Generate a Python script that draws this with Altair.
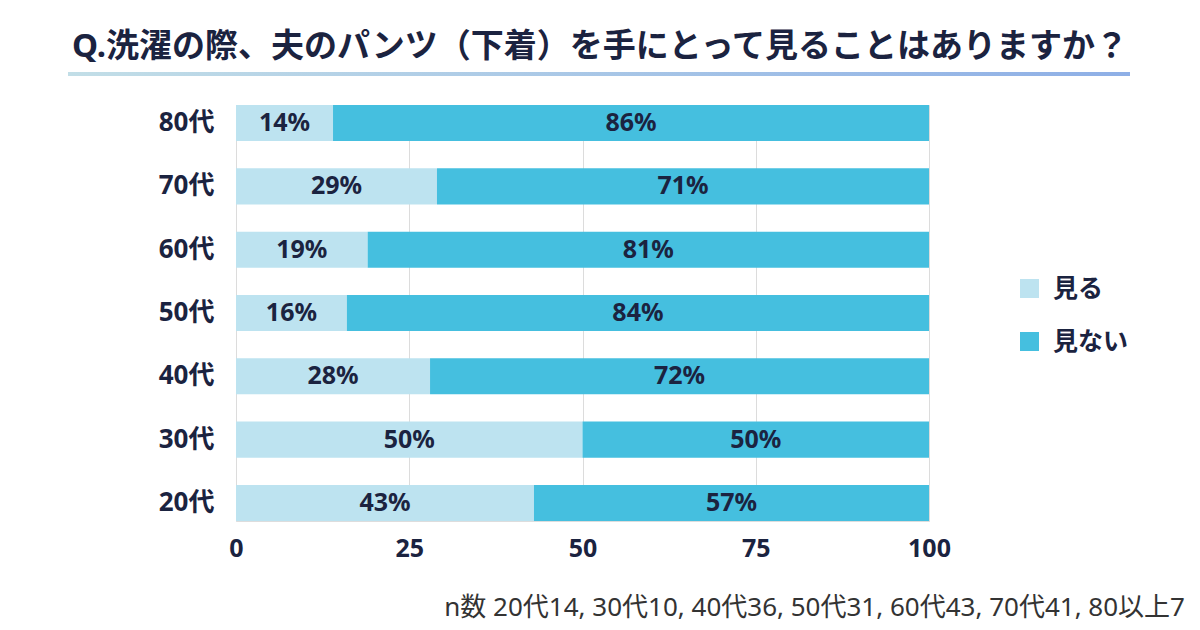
import altair as alt
import pandas as pd

FONT = "Noto Sans, Noto Sans CJK JP"
NAVY = "#1b2340"

title_text = "Q.洗濯の際、夫のパンツ（下着）を手にとって見ることはありますか？"
note_text = "n数 20代14, 30代10, 40代36, 50代31, 60代43, 70代41, 80以上7"

ages = ["80代", "70代", "60代", "50代", "40代", "30代", "20代"]
miru = [14, 29, 19, 16, 28, 50, 43]
minai = [86, 71, 81, 84, 72, 50, 57]
series = ["見る", "見ない"]
colors = ["#bde3f0", "#45bfdf"]
x_ticks = [0, 25, 50, 75, 100]

rows = []
for a, m, n in zip(ages, miru, minai):
    rows.append({"age": a, "series": series[0], "value": m, "ord": 0})
    rows.append({"age": a, "series": series[1], "value": n, "ord": 1})
df = pd.DataFrame(rows)

W, H = 693, 416

base = alt.Chart(df).transform_stack(
    stack="value", as_=["x0", "x1"], groupby=["age"],
    sort=[alt.SortField("ord", order="ascending")]
).transform_calculate(mid="(datum.x0 + datum.x1) / 2")

yenc = alt.Y("age:N", sort=ages,
             scale=alt.Scale(domain=ages, paddingInner=0.43, paddingOuter=0),
             axis=alt.Axis(title=None, domain=False, ticks=False, labelFontSize=26,
                           labelFontWeight="bold", labelColor=NAVY, labelFont=FONT,
                           labelPadding=22))

bars = base.mark_bar().encode(
    x=alt.X("x0:Q", scale=alt.Scale(domain=[0, 100], nice=False),
            axis=alt.Axis(title=None, values=x_ticks, domain=False, ticks=False,
                          labelFontSize=25, labelFontWeight="bold", labelColor=NAVY,
                          labelFont=FONT, labelPadding=15, labelFlush=False,
                          gridColor="#dcdcdc", gridWidth=1, grid=True)),
    x2="x1:Q",
    y=yenc,
    color=alt.Color("series:N", sort=series,
                    scale=alt.Scale(domain=series, range=colors),
                    legend=alt.Legend(title=None, orient="none", legendX=781, legendY=171,
                                      symbolType="square", symbolSize=361,
                                      symbolStrokeWidth=0, labelFontSize=25,
                                      labelFontWeight="bold", labelColor=NAVY,
                                      labelFont=FONT, rowPadding=27, labelOffset=11,
                                      padding=0)),
    order=alt.Order("ord:Q"),
)

labels = base.mark_text(fontSize=25, fontWeight="bold", color=NAVY, font=FONT).encode(
    x=alt.X("mid:Q"),
    y=alt.Y("age:N", sort=ages),
    text=alt.Text("label:N"),
).transform_calculate(label="datum.value + '%'")

title = alt.Chart(pd.DataFrame({"t": [title_text]})).mark_text(
    fontSize=33, fontWeight="bold", color=NAVY, font=FONT, align="center", baseline="middle"
).encode(text="t:N", x=alt.value(364), y=alt.value(-58))

grad = alt.LinearGradient(
    gradient="linear",
    stops=[alt.GradientStop(color="#c2dee7", offset=0),
           alt.GradientStop(color="#8eafe6", offset=1)],
    x1=0, x2=1, y1=0, y2=0,
)
line = alt.Chart(pd.DataFrame({"k": [0]})).mark_rect(color=grad).encode(
    x=alt.value(-168), x2=alt.value(894), y=alt.value(-33), y2=alt.value(-29)
)

note = alt.Chart(pd.DataFrame({"t": [note_text]})).mark_text(
    fontSize=26, color="#333333", font=FONT, align="right", baseline="middle"
).encode(text="t:N", x=alt.value(949), y=alt.value(503))

chart = alt.layer(bars, labels, title, line, note).properties(
    width=W, height=H,
    autosize=alt.AutoSizeParams(type="none"),
    padding={"left": 228, "top": 97, "right": 263, "bottom": 106},
).configure_view(stroke=None).configure(background="white")

chart.save("out.html", embed_options={"renderer": "svg", "actions": False})
